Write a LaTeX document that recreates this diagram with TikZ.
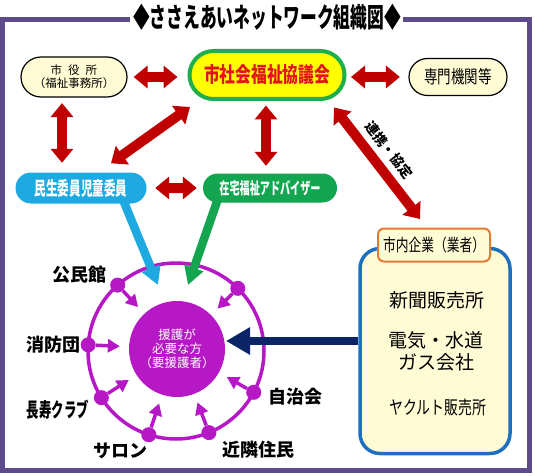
\documentclass[tikz,border=0pt]{standalone}
\usepackage{fontspec}
\newfontfamily\jp{Noto Sans CJK JP}
\newfontfamily\jpc[FakeStretch=0.75]{Noto Sans CJK JP}
\newfontfamily\jpcc[FakeStretch=0.62]{Noto Sans CJK JP}
\usetikzlibrary{arrows.meta,shapes.misc}
\definecolor{framec}{HTML}{5E4B8C}
\definecolor{darkred}{HTML}{C00000}
\definecolor{cream}{HTML}{FFFBD5}
\definecolor{kgreen}{HTML}{1DAF4B}
\definecolor{kyellow}{HTML}{FFFF00}
\definecolor{kred}{HTML}{E3151C}
\definecolor{kblue}{HTML}{1FA9E1}
\definecolor{kgreentwo}{HTML}{13A54F}
\definecolor{kmag}{HTML}{B618C6}
\definecolor{knavy}{HTML}{0B2566}
\definecolor{kbord}{HTML}{1F6FC1}
\definecolor{korange}{HTML}{E47B35}
\tikzset{
  pill/.style={rounded rectangle, draw=black, line width=1.2pt, fill=cream, inner sep=0pt, align=center},
  colpill/.style={rounded rectangle, inner sep=0pt, text=white},
  redarr/.style={draw=darkred, line width=10pt, {Triangle[width=22pt,length=14pt]}-{Triangle[width=22pt,length=14pt]}},
  magarr/.style={draw=kmag, line width=3.5pt, -{Triangle[width=13pt,length=12pt]}, shorten >=9pt},
  dotnode/.style={circle, fill=kmag, minimum size=15pt, inner sep=0pt},
  lbl/.style={font=\jp\bfseries\fontsize{18}{20}\selectfont},
  ktext/.style={font=\jp\fontsize{19}{22}\selectfont, align=center},
}
\begin{document}
\begin{tikzpicture}[x=1pt,y=-1pt]
\useasboundingbox[fill=white] (0,0) rectangle (535,476);
% frame
\draw[framec, line width=5pt] (130,19.5) -- (2.5,19.5) -- (2.5,470) -- (529,470) -- (529,19.5) -- (403,19.5);
\node[font=\jpcc\bfseries\fontsize{27}{29}\selectfont] (title) at (267,17) {◆ささえあいネットワーク組織図◆};

% top row
\node[pill, minimum width=106pt, minimum height=40pt, font=\jp\fontsize{11.5}{13}\selectfont] (shiyakusho) at (74,77) {市\hspace{6pt}役\hspace{6pt}所\\（福祉事務所）};
\node[rounded rectangle, draw=kgreen, line width=4pt, fill=kyellow, inner sep=0pt, minimum width=155pt, minimum height=48pt, text=kred, font=\jpc\bfseries\fontsize{21}{23}\selectfont] (shakyo) at (267,75) {市社会福祉協議会};
\node[pill, minimum width=98pt, minimum height=37pt, font=\jpc\fontsize{18}{20}\selectfont] (senmon) at (458,77) {専門機関等};

% second row
\node[colpill, fill=kblue, minimum width=131pt, minimum height=31pt, font=\jpcc\bfseries\fontsize{18.7}{20}\selectfont] (minsei) at (81,188) {民生委員児童委員};
\node[colpill, fill=kgreentwo, minimum width=134pt, minimum height=29pt, font=\jpcc\bfseries\fontsize{16.3}{18}\selectfont] (zaitaku) at (270,188) {在宅福祉アドバイザー};

% companies box
\node[draw=kbord, line width=3.5pt, fill=cream, rounded corners=20pt, minimum width=150pt, minimum height=205pt] (kigyo) at (435,351) {};
\node[draw=korange, line width=2pt, fill=cream, rounded corners=6pt, minimum width=112pt, minimum height=33pt, inner sep=0pt, font=\jpc\fontsize{17}{19}\selectfont] (kigyolbl) at (434,245) {市内企業（業者）};
\node[ktext] (k1) at (437,300) {新聞販売所};
\node[ktext] (k2) at (436,351) {電気・水道\\ガス会社};
\node[font=\jpc\fontsize{18.5}{20}\selectfont] (k3) at (438,407) {ヤクルト販売所};

% red double arrows
\draw[redarr, shorten <=6pt, shorten >=10pt] (shiyakusho.east) -- (shiyakusho.east -| shakyo.west);
\draw[redarr, shorten <=4.5pt, shorten >=8.5pt] (shakyo.east |- senmon.west) -- (senmon.west);
\draw[redarr, shorten <=5.5pt, shorten >=9.5pt] ([xshift=-12pt]shiyakusho.south) -- ([xshift=-19pt]minsei.north);
\draw[redarr] ([xshift=-77pt,yshift=-6pt]shakyo.south) -- ([xshift=30pt,yshift=9pt]minsei.north);
\draw[redarr, shorten <=4.5pt, shorten >=7.5pt] ([xshift=-1pt]shakyo.south) -- ([xshift=-4pt]zaitaku.north);
\draw[redarr] ([xshift=67pt,yshift=-6.5pt]shakyo.south) -- ([xshift=-14pt,yshift=8.5pt]kigyolbl.north);
\draw[redarr, shorten <=8.5pt, shorten >=6pt] (minsei) -- (zaitaku);
\node[rotate=-52, font=\jp\bfseries\fontsize{13.5}{15}\selectfont] (renkei) at (389,150) {連携・協定};

% circle
\node[circle, draw=kmag, line width=3.5pt, minimum size=176pt, inner sep=0pt] (ring) at (176,351) {};
\node[circle, fill=kmag, minimum size=96pt, inner sep=0pt, text=white, align=center, font=\jp\fontsize{12.5}{14}\selectfont] (yoengo) at (177,349) {援護が\\必要な方\\（要援護者）};

% blue / green / navy arrows
\coordinate (btip) at (158,285);
\coordinate (gtip) at (188,285);
\coordinate (ntip) at (226,341);
\draw[kblue, line width=8.5pt, -{Triangle[width=19pt,length=18pt]}] ([xshift=42pt,yshift=4pt]minsei.south) -- (btip);
\draw[kgreentwo, line width=8.5pt, -{Triangle[width=19pt,length=18pt]}] ([xshift=-52pt,yshift=4pt]zaitaku.south) -- (gtip);
\draw[knavy, line width=8pt, -{Triangle[width=26pt,length=24pt]}] (kigyo.west |- ntip) -- (ntip);

% dots on ring
\path (ring.center) ++(131.5:88pt) node[dotnode] (d1) {};
\path (ring.center) ++(45.4:88pt) node[dotnode] (d2) {};
\path (ring.center) ++(176:88pt) node[dotnode] (d3) {};
\path (ring.center) ++(212:88pt) node[dotnode] (d4) {};
\path (ring.center) ++(252:88pt) node[dotnode] (d5) {};
\path (ring.center) ++(292:88pt) node[dotnode] (d6) {};
\path (ring.center) ++(332:88pt) node[dotnode] (d7) {};
\foreach \d in {d1,d2,d3,d4,d5,d6,d7} \draw[magarr] (\d) -- (yoengo);

% labels
\node[lbl] (l1) at (79,275) {公民館};
\node[lbl] (l3) at (53,345) {消防団};
\node[font=\jpcc\bfseries\fontsize{20}{22}\selectfont] (l4) at (58,410) {長寿クラブ};
\node[lbl] (l5) at (120,451) {サロン};
\node[lbl] (l6) at (258,450) {近隣住民};
\node[lbl] (l7) at (295,397) {自治会};
\end{tikzpicture}
\end{document}
